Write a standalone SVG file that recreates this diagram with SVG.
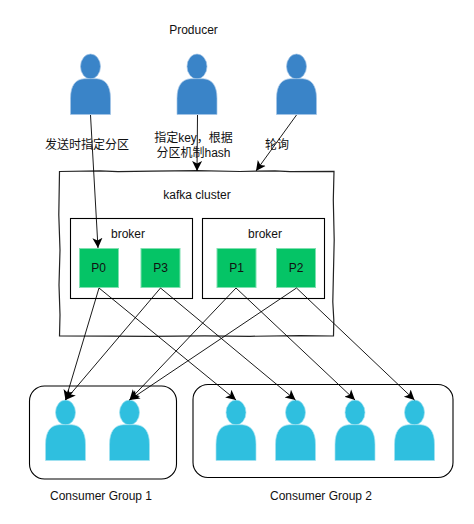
<svg xmlns="http://www.w3.org/2000/svg" width="474" height="524" viewBox="0 0 474 524">
<style>
text{font-family:"Liberation Sans","Noto Sans CJK SC",sans-serif;font-size:12px;fill:#111;text-anchor:middle}
.box{fill:#fff;stroke:#000;stroke-width:1.1}
.part{fill:#05c466;stroke:#7fe0b0;stroke-width:1}
.prod{fill:#3a84c8;stroke:#a5c6e6;stroke-width:.7}
.cons{fill:#2fbfdf;stroke:#a5e2f0;stroke-width:.7}
.c{fill:none;stroke:#000;stroke-width:.9;marker-end:url(#a)}
.sk{fill:#fff;stroke:#222;stroke-width:1.2}
</style>
<defs>
<marker id="a" markerUnits="userSpaceOnUse" markerWidth="12" markerHeight="12" refX="10" refY="5" orient="auto" viewBox="0 0 12 10">
<path d="M0 0L10 5L0 10L2.500 5Z" fill="#000"/>
</marker>
<g id="person">
<ellipse cx="0" cy="12" rx="10" ry="12.500"/>
<path d="M-20 60V44C-20 31-15 24.500-6 24.200H6C15 24.500 20 31 20 44V60Z"/>
</g>
</defs>
<g id="cluster"><path class="sk" d="M59.500 171.500L100 170.800L118 171.600L152 171.200L197 170.700L240 171.500L256 171.200L275 170.800L290 171.600L334 171.300L333.300 200L334.200 240L333.400 275L332.800 302L333.800 320L333.500 336L300 335.600L250 336.300L205 335.800L150 336.400L110 336.100L59.500 336L60 315L59 285L60 250L58.800 215Z"/><text x="197" y="199">kafka cluster</text></g>
<g id="broker1"><rect class="box" x="70.500" y="218.500" width="122" height="80"/><text x="128" y="238">broker</text></g>
<g id="broker2"><rect class="box" x="202.500" y="218.500" width="122" height="80"/><text x="265" y="238">broker</text></g>
<g id="p0"><rect class="part" x="79.500" y="248.500" width="39" height="39"/><text x="98.500" y="272">P0</text></g>
<g id="p3"><rect class="part" x="141" y="248.500" width="39" height="39"/><text x="160.500" y="272">P3</text></g>
<g id="p1"><rect class="part" x="217" y="248.500" width="39" height="39"/><text x="236.500" y="272">P1</text></g>
<g id="p2"><rect class="part" x="276.500" y="248.500" width="39" height="39"/><text x="296" y="272">P2</text></g>
<g id="group1"><rect class="box" x="29.500" y="386" width="147" height="93" rx="15"/><text x="101" y="500">Consumer Group 1</text></g>
<g id="group2"><rect class="box" x="193" y="384.500" width="260" height="93" rx="15"/><text x="321" y="500">Consumer Group 2</text></g>
<g id="producer1" class="prod"><use href="#person" x="90.500" y="54.500"/></g>
<g id="producer2" class="prod"><use href="#person" x="197" y="54.500"/></g>
<g id="producer3" class="prod"><use href="#person" x="296.500" y="54.500"/></g>
<g id="consumer1" class="cons"><use href="#person" x="65.500" y="400.500"/></g>
<g id="consumer2" class="cons"><use href="#person" x="129.500" y="400.500"/></g>
<g id="consumer3" class="cons"><use href="#person" x="236" y="400.500"/></g>
<g id="consumer4" class="cons"><use href="#person" x="295.500" y="400.500"/></g>
<g id="consumer5" class="cons"><use href="#person" x="355" y="400.500"/></g>
<g id="consumer6" class="cons"><use href="#person" x="414.500" y="400.500"/></g>
<g id="connectors">
<path class="c" d="M90.500 115L98 248"/>
<path class="c" d="M197.500 115L197 171"/>
<path class="c" d="M296.500 115L256 171"/>
<path class="c" d="M99 288L65.500 400"/>
<path class="c" d="M99 288L236 400"/>
<path class="c" d="M160.500 288L65.500 400"/>
<path class="c" d="M160.500 288L295.500 400"/>
<path class="c" d="M236 288L129.500 400"/>
<path class="c" d="M236 288L355 400"/>
<path class="c" d="M296.500 288L129.500 400"/>
<path class="c" d="M296.500 288L414.500 400"/>
</g>
<g id="labels">
<text x="193.500" y="34">Producer</text>
<text x="87" y="149">发送时指定分区</text>
<text x="193.500" y="142">指定key，根据</text>
<text x="193.500" y="157">分区机制hash</text>
<text x="277" y="149">轮询</text>
</g>
</svg>
